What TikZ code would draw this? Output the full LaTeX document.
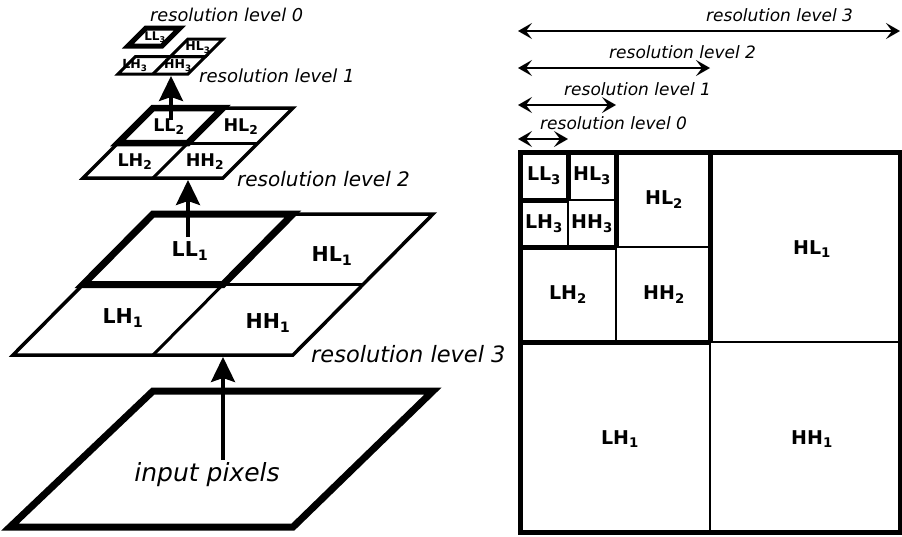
\documentclass[tikz,border=0pt]{standalone}
\usepackage{fontspec}
\setmainfont{DejaVu Sans}
\usetikzlibrary{arrows.meta}

\newcommand\fsz[1]{\fontsize{#1}{#1}\selectfont}

\tikzset{
  x=1pt, y=-1pt,
  edge/.style={draw, line join=miter, line width=#1},
  lvl/.style={font=\fsz{#1}\itshape, anchor=base west, inner sep=0pt},
  band/.style={font=\fsz{#1}\bfseries, inner sep=0pt},
  uparrow/.style={line width=3.5pt, -{Stealth[length=25pt,width=24pt,inset=4pt]}},
  span/.style={line width=2.5pt, {Stealth[length=14pt,width=16pt,inset=6pt]}-{Stealth[length=14pt,width=16pt,inset=6pt]}},
}

\begin{document}
\begin{tikzpicture}
\useasboundingbox (0,0) rectangle (902,536);

% ---------------- pyramid of sub-band layers ----------------
% input image
\draw[edge=7pt] (153,391) -- (433,391) -- (293,527) -- (10,527) -- cycle;
\node[font=\fsz{25}\itshape, anchor=base, inner sep=0pt] (inp) at (207,481) {input pixels};

% decomposition level 1 (2x2 bands)
\draw[edge=3.5pt] (153,214) -- (433,214) -- (293,355) -- (13,355) -- cycle;
\draw[line width=3pt] (293,214) -- (153,355);
\draw[line width=3pt] (83,284.5) -- (363,284.5);
\draw[edge=7pt] (153,214) -- (293,214) -- (223,284.5) -- (83,284.5) -- cycle;
\node[band=20.5] (ll1) at (190,251) {LL\textsubscript{1}};
\node[band=20.5] (hl1) at (332,256) {HL\textsubscript{1}};
\node[band=20.5] (lh1) at (123,318) {LH\textsubscript{1}};
\node[band=20.5] (hh1) at (268,323) {HH\textsubscript{1}};
\node[lvl=22.5] (lab3) at (311,362) {resolution level 3};

% decomposition level 2
\draw[edge=3.5pt] (153,108) -- (293,108) -- (223,178) -- (83,178) -- cycle;
\draw[line width=3pt] (223,108) -- (153,178);
\draw[line width=3pt] (118,143) -- (258,143);
\draw[edge=6.5pt] (153,108) -- (223,108) -- (188,143) -- (118,143) -- cycle;
\node[band=17.5] (ll2) at (169,127) {LL\textsubscript{2}};
\node[band=17.5] (hl2) at (241,127) {HL\textsubscript{2}};
\node[band=17.5] (lh2) at (135,162) {LH\textsubscript{2}};
\node[band=17.5] (hh2) at (205,162) {HH\textsubscript{2}};
\node[lvl=20] (lab2) at (237,186) {resolution level 2};

% decomposition level 3 (detail bands only)
\draw[edge=3pt] (188,39) -- (223,39) -- (205.5,56.5) -- (170.5,56.5) -- cycle;
\draw[edge=3pt] (135.5,56.5) -- (205.5,56.5) -- (188,74) -- (118,74) -- cycle;
\draw[line width=3pt] (170.5,56.5) -- (153,74);
\node[band=12.5] (hl3) at (198,47.5) {HL\textsubscript{3}};
\node[band=12.5] (lh3) at (135,65.5) {LH\textsubscript{3}};
\node[band=12.5] (hh3) at (178,65.5) {HH\textsubscript{3}};
\node[lvl=18] (lab1) at (199,82) {resolution level 1};

% lowest band, lifted above
\draw[edge=5pt] (146,28) -- (180,28) -- (162,46) -- (128,46) -- cycle;
\node[band=12] (ll3) at (155,37) {LL\textsubscript{3}};
\node[lvl=17.7] (lab0) at (150,21) {resolution level 0};

% transform steps
\coordinate (s1) at (223,460);  \coordinate (t1) at (223,357);
\coordinate (s2) at (188,237);  \coordinate (t2) at (188,180);
\coordinate (s3) at (171,120);  \coordinate (t3) at (171,76);
\draw[uparrow] (s1) -- (t1);
\draw[uparrow] (s2) -- (t2);
\draw[uparrow] (s3) -- (t3);

% ---------------- flat sub-band layout ----------------
% thin band borders
\draw[line width=2pt] (710,152) -- (710,532);
\draw[line width=2pt] (520,342) -- (900,342);
\draw[line width=2pt] (616,152) -- (616,342);
\draw[line width=2pt] (520,247) -- (710,247);
\draw[line width=2pt] (568,152) -- (568,247);
\draw[line width=2pt] (520,200) -- (616,200);
% lower-resolution regions
\draw[line width=5pt] (710,152) -- (710,342);
\draw[line width=5pt] (520,342) -- (710,342);
\draw[line width=5pt] (616,152) -- (616,247);
\draw[line width=5pt] (520,247) -- (616,247);
\draw[line width=5pt] (568,152) -- (568,200);
\draw[line width=5pt] (520,200) -- (568,200);
\draw[edge=5pt] (520,152) rectangle (900,532);

\node[band=19] (rll3) at (544,176) {LL\textsubscript{3}};
\node[band=19] (rhl3) at (592,176) {HL\textsubscript{3}};
\node[band=19] (rlh3) at (544,224) {LH\textsubscript{3}};
\node[band=19] (rhh3) at (592,224) {HH\textsubscript{3}};
\node[band=19] (rhl2) at (664,200) {HL\textsubscript{2}};
\node[band=19] (rlh2) at (568,295) {LH\textsubscript{2}};
\node[band=19] (rhh2) at (664,295) {HH\textsubscript{2}};
\node[band=19] (rhl1) at (812,249) {HL\textsubscript{1}};
\node[band=19] (rlh1) at (620,439) {LH\textsubscript{1}};
\node[band=19] (rhh1) at (812,439) {HH\textsubscript{1}};

% extents of each resolution level
\coordinate (a3) at (518,31);  \coordinate (b3) at (900,31);
\coordinate (a2) at (518,68);  \coordinate (b2) at (710,68);
\coordinate (a1) at (518,105); \coordinate (b1) at (616,105);
\coordinate (a0) at (518,139); \coordinate (b0) at (568,139);
\draw[span] (a3) -- (b3);
\draw[span] (a2) -- (b2);
\draw[span] (a1) -- (b1);
\draw[span] (a0) -- (b0);
\node[lvl=17] (rlab3) at (706,21) {resolution level 3};
\node[lvl=17] (rlab2) at (609,58) {resolution level 2};
\node[lvl=17] (rlab1) at (564,95) {resolution level 1};
\node[lvl=17] (rlab0) at (540,129) {resolution level 0};
\end{tikzpicture}
\end{document}
